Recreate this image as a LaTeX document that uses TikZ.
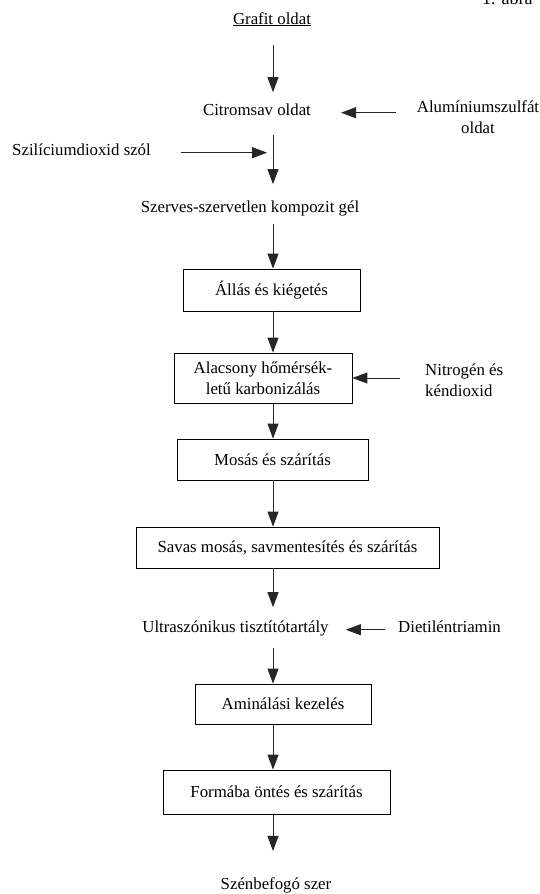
\documentclass[tikz,border=0pt]{standalone}
\usepackage{fontspec}
\setmainfont{Liberation Serif}
\usepackage{tikz}
\usetikzlibrary{arrows.meta, positioning, calc}

\begin{document}
\begin{tikzpicture}[x=1pt, y=-1pt,
  txt/.style={inner sep=0pt, font=\fontsize{16.8}{21}\selectfont},
  stepbox/.style={draw, rectangle, line width=0.8pt, inner sep=2pt, align=center, font=\fontsize{16.8}{21}\selectfont},
  flow/.style={-{Triangle[width=11pt, length=15pt]}, line width=0.9pt, draw=black!85}]
\useasboundingbox (0,0) rectangle (540,894);
\clip (0,0) rectangle (540,894);
\fill[white] (0,0) rectangle (540,894);

% column of the main flow
\coordinate (col) at (273,0);

% figure caption (cut by the page edge)
\node[txt, anchor=base west, font=\fontsize{18}{21}\selectfont] (cap) at (482,5) {1. ábra};

% starting materials
\node[txt, anchor=base] (grafit) at (272,24) {\underline{Grafit oldat}};
\node[txt, anchor=base] (citrom) at (257,115) {Citromsav oldat};
\node[txt, anchor=north, align=center] (alu) at (478,100) {Alumíniumszulfát\\oldat};
\node[txt, anchor=base west] (szil) at (12,155) {Szilíciumdioxid szól};
\node[txt, anchor=base] (gel) at (250,212) {Szerves-szervetlen kompozit gél};

% process steps
\node[stepbox, minimum width=177pt, minimum height=42pt] (allas) at (271.5,290) {Állás és kiégetés};
\node[stepbox, minimum width=178pt, minimum height=50pt] (karbon) at (263,378) {Alacsony hőmérsék-\\letű karbonizálás};
\node[txt, anchor=north west, align=left] (nitro) at (425,364) {Nitrogén és\\kéndioxid};
\node[stepbox, minimum width=191pt, minimum height=41pt] (mosas) at (272.5,459.5) {Mosás és szárítás};
\node[stepbox, minimum width=303pt, minimum height=41pt] (savas) at (287.5,547.5) {Savas mosás, savmentesítés és szárítás};
\node[txt, anchor=base] (ultra) at (235.5,632) {Ultraszónikus tisztítótartály};
\node[txt, anchor=base west] (diet) at (398,632) {Dietiléntriamin};
\node[stepbox, minimum width=176pt, minimum height=40pt] (amin) at (283,704) {Aminálási kezelés};
\node[stepbox, minimum width=227pt, minimum height=44pt] (forma) at (276.5,792) {Formába öntés és szárítás};

% product
\node[txt, anchor=base] (szen) at (276,889) {\underline{Szénbefogó szer}};

% main arrows
\draw[flow, shorten <=19pt, shorten >=11pt] (grafit.south -| col) -- (citrom.north -| col);
\draw[flow, shorten <=20pt, shorten >=16pt] (citrom.south -| col) -- (gel.north -| col);
\draw[flow, shorten <=8pt] (gel.south -| col) -- (allas.north -| col);
\draw[flow] (allas.south -| col) -- (karbon.north -| col);
\draw[flow] (karbon.south -| col) -- (mosas.north -| col);
\draw[flow] (mosas.south -| col) -- (savas.north -| col);
\draw[flow, shorten >=13pt] (savas.south -| col) -- (ultra.north -| col);
\draw[flow, shorten <=12pt] (ultra.south -| col) -- (amin.north -| col);
\draw[flow] (amin.south -| col) -- (forma.north -| col);
\draw[flow, shorten >=26pt] (forma.south -| col) -- (szen.north -| col);

% side inputs
\draw[flow, shorten <=21pt, shorten >=30pt] (alu.west |- citrom.mid east) -- (citrom.mid east);
\draw[flow, shorten <=30pt, shorten >=6pt] (szil.mid east) -- (szil.mid east -| col);
\draw[flow, shorten <=25pt] (nitro.west |- karbon.east) -- (karbon.east);
\draw[flow, shorten <=13pt, shorten >=17pt] (diet.mid west) -- (ultra.mid east);
\end{tikzpicture}
\end{document}
